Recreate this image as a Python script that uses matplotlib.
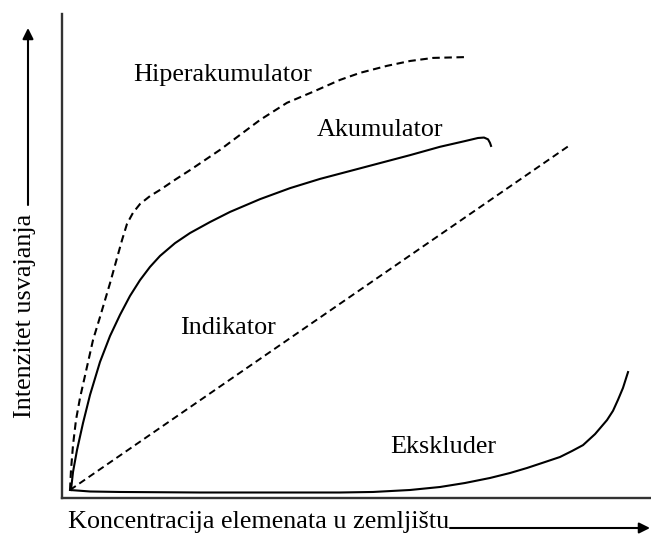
import matplotlib
matplotlib.use('Agg')
import matplotlib.pyplot as plt

# curves (arbitrary units, origin at the corner)
hiper_x = [0, 0.17, 0.52, 1.03, 1.72, 2.93, 3.97, 5.17, 6.90, 8.10, 8.97,
           9.83, 10.86, 12.07, 13.79, 15.52, 18.10, 20.69, 23.28, 25.86,
           29.31, 32.76, 37.41, 41.90, 46.55, 50.0, 54.66, 58.62, 62.59, 68.62]
hiper_y = [0, 4.5, 10.2, 15.9, 20.9, 28.0, 34.1, 39.3, 47.0, 52.7, 56.8,
           60.5, 63.0, 65.0, 66.8, 68.2, 70.5, 72.7, 75.0, 77.3,
           80.7, 84.1, 88.0, 90.5, 93.2, 94.8, 96.4, 97.5, 98.2, 98.4]

akum_x = [0.17, 0.52, 1.21, 2.24, 3.45, 5.17, 6.90, 8.62, 10.34, 12.07,
          13.79, 15.52, 18.10, 20.69, 24.14, 27.59, 32.76, 37.93, 43.10,
          48.28, 53.45, 58.62, 63.79, 68.10, 70.34, 71.38, 72.07, 72.41, 72.59]
akum_y = [0, 4.1, 9.1, 15.2, 21.6, 29.1, 35.0, 39.8, 44.1, 47.7,
          50.7, 53.2, 56.1, 58.4, 60.9, 63.2, 66.1, 68.6, 70.7,
          72.5, 74.3, 76.1, 78.0, 79.3, 80.0, 80.1, 79.7, 78.9, 78.2]

indik_x = [0, 86.21]
indik_y = [0, 78.4]

ekskl_x = [0, 3.45, 8.62, 22.41, 46.55, 52.24, 58.62, 63.79, 68.10, 72.41,
           75.86, 78.79, 81.90, 84.48, 86.55, 88.45, 90.52, 92.59, 93.62,
           94.48, 95.34, 96.21]
ekskl_y = [0, -0.34, -0.45, -0.57, -0.57, -0.45, 0, 0.68, 1.59, 2.73,
           3.86, 5.0, 6.36, 7.5, 8.86, 10.2, 12.7, 15.9, 18.0,
           20.5, 23.2, 26.8]

labels = ['Hiperakumulator', 'Akumulator', 'Indikator', 'Ekskluder']
label_x = [26.38, 53.45, 27.16, 64.4]
label_y = [94.3, 81.8, 36.8, 9.77]

plt.rcParams['font.family'] = ['Liberation Serif', 'DejaVu Serif']
fs = 18.8

fig = plt.figure(figsize=(6.51, 5.35), dpi=100)
ax = fig.add_axes([62 / 651, 37 / 535, 589 / 651, 484 / 535])

dash = (0, (3.6, 2.2))
ax.plot(hiper_x, hiper_y, color='black', lw=1.5, linestyle=dash)
ax.plot(akum_x, akum_y, color='black', lw=1.5)
ax.plot(indik_x, indik_y, color='black', lw=1.4, linestyle=dash)
ax.plot(ekskl_x, ekskl_y, color='black', lw=1.5)

for txt, x, y in zip(labels, label_x, label_y):
    ax.text(x, y, txt, fontsize=fs, ha='center', va='center')

ax.set_xlim(-1.38, 100.17)
ax.set_ylim(-1.82, 108.18)
ax.set_xticks([])
ax.set_yticks([])
for side in ['top', 'right']:
    ax.spines[side].set_visible(False)
for side in ['left', 'bottom']:
    ax.spines[side].set_linewidth(1.7)
    ax.spines[side].set_color('#333333')

# axis titles with arrows
fig.text(25 / 651, 1 - 316 / 535, 'Intenzitet usvajanja', rotation=90,
         fontsize=fs, ha='center', va='center')
fig.text(68 / 651, 1 - 522 / 535, 'Koncentracija elemenata u zemljištu',
         fontsize=fs, ha='left', va='center')
arrow = dict(arrowstyle='-|>', lw=1.5, color='black', mutation_scale=16,
             shrinkA=0, shrinkB=0)
ax.annotate('', xy=(28 / 651, 1 - 28 / 535), xytext=(28 / 651, 1 - 205 / 535),
            xycoords='figure fraction', textcoords='figure fraction',
            arrowprops=arrow)
ax.annotate('', xy=(650 / 651, 1 - 528 / 535), xytext=(450 / 651, 1 - 528 / 535),
            xycoords='figure fraction', textcoords='figure fraction',
            arrowprops=arrow)

fig.savefig('out.png', dpi=100)
